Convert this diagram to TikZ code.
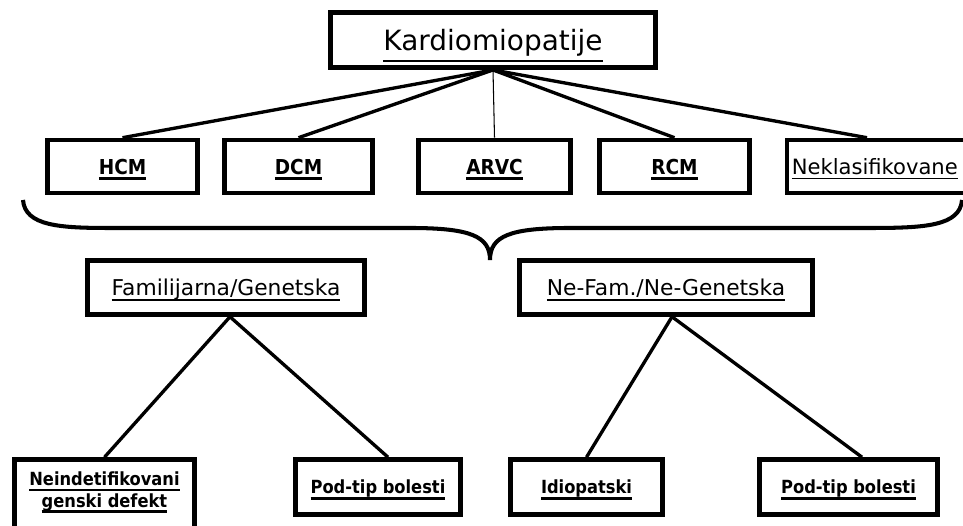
\documentclass[tikz,border=0pt]{standalone}
\usepackage{fontspec}
\setmainfont{DejaVu Sans}
\newfontfamily\condfont{DejaVu Sans Condensed}
% underlined text: [gap below baseline]{rule thickness}{text}
\newcommand{\ulbox}[3][2pt]{\setbox0\hbox{#3}\rlap{\copy0}\vrule width \wd0 height -#1 depth \dimexpr #1+#2\relax}

\begin{document}
\begin{tikzpicture}[
    box/.style={draw, line width=2.6pt, inner sep=0pt, text depth=0pt},
    topbox/.style={box, line width=2.8pt, minimum width=6.5cm, minimum height=1.1cm,
        font=\fontsize{15.9}{19}\selectfont},
    midbox/.style={box, minimum height=1.06cm, font=\condfont\bfseries\fontsize{11.7}{14}\selectfont},
    grpbox/.style={box, minimum height=1.08cm, font=\fontsize{12.4}{15}\selectfont},
    lowbox/.style={box, minimum height=1.1cm, font=\condfont\bfseries\fontsize{10.3}{12.5}\selectfont},
    link/.style={line width=1.9pt}
]
            \useasboundingbox (0,0) rectangle (19.260000,10.520000);
            \clip (0,0) rectangle (19.260000,10.520000);

            % Box Kardiomiopatije
            \node [topbox] (kardio) at (9.860000,9.720000) {\ulbox[5.5pt]{1.1pt}{Kardiomiopatije}};%

            % Boxes of the second row
            \node [midbox, minimum width=3.00cm] (hcm) at (2.450000,7.190000) {\ulbox[1.9pt]{1.6pt}{HCM}};%
            \node [midbox, minimum width=2.96cm] (dcm) at (5.970000,7.190000) {\ulbox[1.9pt]{1.6pt}{DCM}};%
            \node [midbox, minimum width=3.04cm] (arvc) at (9.890000,7.190000) {\ulbox[1.9pt]{1.6pt}{ARVC}};%
            \node [midbox, minimum width=3.00cm] (rcm) at (13.490000,7.190000) {\ulbox[1.9pt]{1.6pt}{RCM}};%
            \node [box, anchor=west, minimum height=1.06cm, inner xsep=0.1cm,
                font=\fontsize{12}{14}\selectfont] (nek) at (15.690000,7.190000)
                {\makebox[3.8cm][l]{\ulbox[1.9pt]{0.9pt}{Neklasifikovane}}};%
            \coordinate (nekin) at (17.340000,7.200000);

            % Drawing lines from Kardiomiopatije
            \draw [link] (kardio.south) -- (hcm.north);%
            \draw [link] (kardio.south) -- (dcm.north);%
            \draw [line width=0.6pt] (kardio.south) -- (arvc.north);%
            \draw [link] (kardio.south) -- (rcm.north);%
            \draw [link] (kardio.south) -- (nek.north -| nekin);%

            % Drawing brace under the second row
            \draw [line width=2.3pt] (0.460000,6.520000) .. controls (0.500000,6.000000) and (1.200000,5.960000) .. (2.200000,5.960000)
                -- (8.200000,5.960000) .. controls (9.400000,5.960000) and (9.800000,5.800000) .. (9.800000,5.320000)
                .. controls (9.800000,5.800000) and (10.200000,5.960000) .. (11.400000,5.960000)
                -- (17.400000,5.960000) .. controls (18.500000,5.960000) and (19.200000,6.000000) .. (19.240000,6.520000);%

            % Boxes of the third row
            \node [grpbox, minimum width=5.54cm] (fam) at (4.520000,4.770000) {\ulbox[1.9pt]{0.9pt}{Familijarna/Genetska}};%
            \node [grpbox, minimum width=5.86cm] (nefam) at (13.320000,4.770000) {\ulbox[1.9pt]{0.9pt}{Ne-Fam./Ne-Genetska}};%

            % Boxes of the fourth row
            \node [lowbox, minimum width=3.60cm, minimum height=1.61cm, text depth=11.9pt, align=center] (gen) at (2.090000,0.525000)
                {\ulbox[1.9pt]{1.4pt}{Neindetifikovani}\\\ulbox[1.9pt]{1.4pt}{genski defekt}};%
            \node [lowbox, minimum width=3.30cm] (podl) at (7.560000,0.780000) {\ulbox[1.9pt]{1.4pt}{Pod-tip bolesti}};%
            \node [lowbox, minimum width=3.04cm] (idio) at (11.730000,0.780000) {\ulbox[1.9pt]{1.4pt}{Idiopatski}};%
            \node [lowbox, minimum width=3.56cm] (podr) at (16.970000,0.780000) {\ulbox[1.9pt]{1.4pt}{Pod-tip bolesti}};%

            % Drawing lines from Familijarna/Genetska
            \draw [link] ([xshift=0.08cm]fam.south) -- (gen.north);%
            \draw [link] ([xshift=0.08cm]fam.south) -- ([xshift=0.2cm]podl.north);%

            % Drawing lines from Ne-Fam./Ne-Genetska
            \draw [link] ([xshift=0.12cm]nefam.south) -- (idio.north);%
            \draw [link] ([xshift=0.12cm]nefam.south) -- ([xshift=0.27cm]podr.north);%
\end{tikzpicture}
\end{document}
